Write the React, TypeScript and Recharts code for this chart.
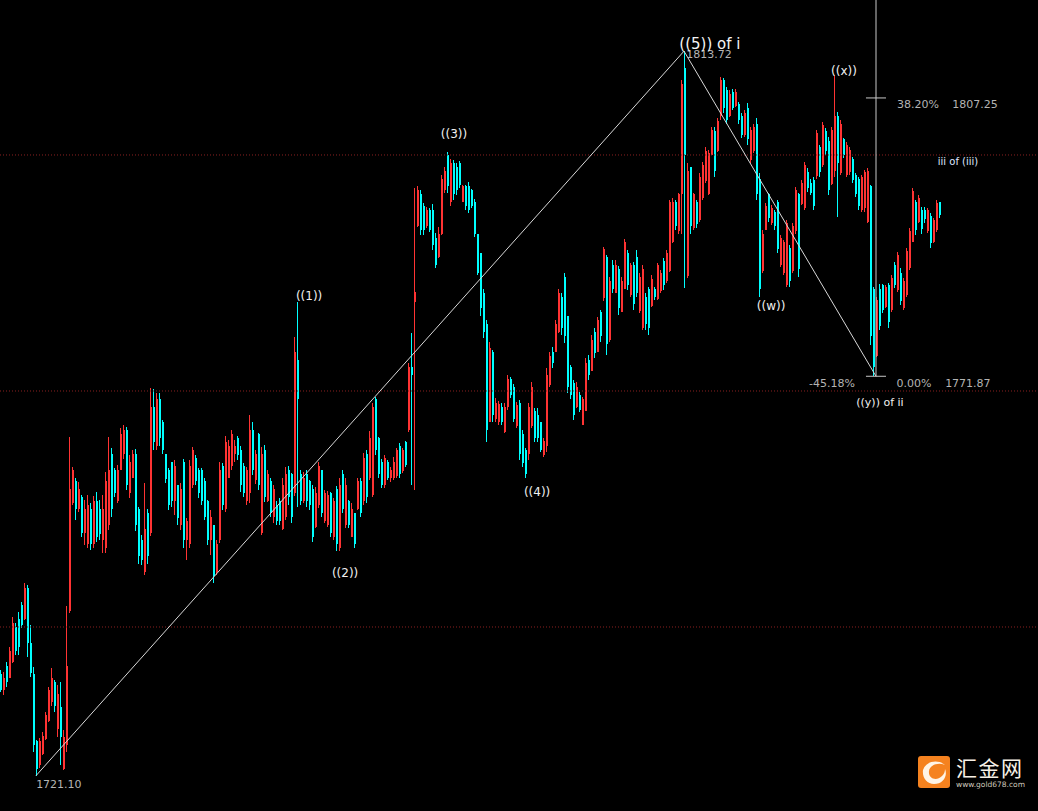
import { ComposedChart, Bar, XAxis, YAxis, ReferenceLine, ReferenceDot } from "recharts";

type Candle = [number, number, number, number]; // open, high, low, close

const openingDrop: Candle[] = [
  [1734,1734.5,1731.7,1732],[1732,1734.3,1731.4,1733.5],[1735,1735.6,1732.4,1733],[1733.5,1737.5,1733.5,1737],
  [1735.5,1741.3,1735.4,1740.5],[1740,1740.5,1736.4,1737],[1741,1741.9,1736.4,1737.5],[1742.8,1743.2,1739.9,1740.3],
  [1741,1745.6,1740.9,1745],[1745,1745.3,1736.2,1738],[1738,1740.3,1733.6,1734.2],[1734,1734.9,1724.1,1725],
  [1725.5,1725.6,1721.1,1722],
];
const firstThrust: Candle[] = [
  [1722.5,1725.9,1722.1,1725.5],[1723.8,1726.7,1723.7,1726.2],[1725.8,1729.2,1725.6,1728.8],[1728,1732.4,1727.9,1732],
  [1730.5,1734.8,1730,1733.5],[1733,1733.3,1729.2,1730],[1727,1732.6,1726,1731.5],[1729.8,1733,1722.5,1726],
  [1722,1726.9,1721.8,1726],[1725,1742.7,1724.1,1735],[1742,1764.2,1741.8,1757.5],[1755.8,1760.3,1755.5,1760],
];
const firstRange: Candle[] = [
  [1758.5,1758.9,1753.6,1755],[1755,1758.4,1754.6,1757.5],[1756.5,1756.8,1751.4,1752],[1752,1756.1,1750.4,1755],
  [1750.5,1756.8,1750,1755.5],[1755,1755.8,1749.8,1750.5],[1750.5,1756.6,1750,1756],[1756,1757.2,1750.8,1751.5],
  [1755,1756.1,1751,1751.8],[1751,1756.8,1749.4,1755],[1750,1759.7,1749.4,1758.5],[1753,1764.2,1752.3,1760],
  [1762,1762.8,1754,1755],[1760,1760.2,1756.5,1757],[1756,1760.6,1755.8,1760],[1760,1765.3,1760,1764.5],
  [1762,1765.7,1761.3,1765],[1765,1765.4,1757.4,1758],[1757,1761.9,1756.4,1761],[1759,1762.5,1758.9,1762],
  [1762,1762.6,1752.2,1753],[1755,1755.3,1748,1749],[1751,1751.7,1747.9,1748.5],[1747,1758.3,1746.6,1752.5],
  [1754.5,1755,1748,1749],[1752,1770.4,1751.6,1768],[1768,1770.2,1762.5,1763.5],[1763,1769.8,1762.5,1769],
  [1769,1769.8,1763,1764],[1766,1766.3,1762,1762.5],[1762,1762,1758.3,1758.8],[1760,1760.2,1754.9,1755.5],
  [1761,1761,1755.2,1756],[1756,1761.2,1754.2,1760.5],[1758,1758,1753,1753.8],[1753,1758.3,1752.3,1757.5],
  [1761,1761.4,1750,1751],[1751,1753.9,1748.5,1753.5],[1750.5,1761.2,1750,1760.5],[1758,1762.9,1757.7,1762.5],
  [1761.5,1761.9,1758,1758.5],[1760,1760.2,1756.4,1757],[1760,1760.2,1755.5,1756],[1758.5,1759,1753.6,1754],
  [1756,1756.1,1750.4,1751],[1751,1754.9,1749.2,1754],[1753,1753,1745.6,1746.5],[1747,1751,1746.6,1750.5],
  [1751,1761,1750.7,1760],[1760.5,1760.8,1754.9,1755.5],[1755,1764.3,1754.6,1763.5],[1759,1763.8,1759,1763],
  [1760.5,1765,1760,1764.5],[1762,1763.8,1761,1763],[1764,1764.3,1761.2,1761.8],
];
const toWaveOne: Candle[] = [
  [1762.5,1763,1757.2,1758],[1760.5,1760.8,1756.5,1757],[1756,1760.3,1755.5,1760],[1757,1767,1755.8,1765],
  [1765,1766,1759.3,1760],[1758.7,1762.5,1758.2,1762],[1764.5,1764.7,1757.4,1758],[1752,1762.9,1751.7,1762],
  [1762.5,1763.1,1755.9,1756.5],[1756,1760,1755.9,1759.5],[1758.5,1758.9,1754,1754.5],[1754,1758,1753.2,1757.5],
  [1755.5,1756,1753,1753.5],[1756,1756.4,1753,1753.5],[1752.5,1759,1752.3,1758],[1754,1760.3,1753.6,1759.5],
  [1760,1760.5,1755.5,1756.5],[1759.5,1759.6,1753.2,1754],[1757,1776.9,1756.6,1775],[1774,1781.3,1755.2,1769],
];
const toWaveTwo: Candle[] = [
  [1759.5,1760,1755.5,1756],[1756,1759.7,1755.8,1759],[1759.5,1760,1755.2,1756],[1758.5,1758.7,1754.9,1755.5],
  [1757.5,1758,1750.8,1751.5],[1752.7,1757.8,1752.6,1757],[1755.5,1761,1755.1,1760.5],[1760,1760,1754,1754.5],
  [1753.5,1757.4,1753.2,1757],[1753,1757.3,1752.7,1756.8],[1757,1757.2,1751.4,1752],[1751.5,1756.4,1751,1756],
  [1757.5,1757.9,1749.7,1750.5],[1750,1758.9,1749.7,1758],[1759.5,1760,1754.5,1755],[1753,1758.9,1752.6,1758],
  [1756,1756.1,1752.6,1753],[1751.5,1755.8,1751.4,1755],[1754.5,1754.5,1750,1750.5],
];
const toWaveThree: Candle[] = [
  [1755,1759,1754.9,1758.5],[1758.5,1759,1754,1754.5],[1756,1762.1,1755.5,1761.5],[1762,1762.5,1755.8,1756.5],
  [1759,1764.9,1758.7,1764],[1756.8,1768.5,1756.5,1768],[1769,1769.2,1761.9,1762.5],[1764,1764.2,1759,1759.5],
  [1761,1761.4,1757.7,1758],[1758,1761.9,1757.7,1761.5],[1761,1761.2,1758.7,1759],[1759,1760.3,1758.4,1760],
  [1759,1761.6,1758.7,1761],[1759.2,1762.8,1759,1762.5],[1763,1763.4,1759,1759.5],[1759.8,1762.8,1759.6,1762.5],
  [1763.5,1763.6,1760.3,1760.6],[1765,1773.6,1764.8,1773],[1773,1777.4,1758,1772],[1781.3,1795.8,1757.4,1782.6],
  [1791,1796.1,1790.8,1795.5],[1795,1795.6,1789.8,1790.5],[1793.5,1793.9,1789.8,1790.5],[1791,1793.4,1790.7,1793],
  [1793,1793.3,1790.2,1790.5],[1793,1793.8,1787.9,1788.5],[1789.5,1790.1,1785.6,1786],[1787,1790.8,1786.9,1790],
  [1790,1797.5,1789.8,1797],[1795.5,1798.5,1795.2,1798],[1800,1800.4,1795.2,1796],
];
const toWaveFour: Candle[] = [
  [1794,1799.5,1793.5,1799],[1799,1799.4,1794.3,1795],[1798.5,1799,1794.9,1795.5],[1799,1799.2,1795.8,1796.2],
  [1794,1796.2,1794,1796],[1796,1796.2,1793,1793.5],[1796,1796.6,1792.6,1793],[1795.5,1795.7,1793.2,1793.5],
  [1794,1794.4,1789.6,1790],[1790,1790,1784.7,1785],[1787.5,1787.5,1779.5,1780.5],[1782.5,1783,1776.7,1777.5],
  [1778.5,1779,1763.5,1765],[1766,1776.2,1766,1775.5],[1775,1775.2,1766,1767],[1766.5,1769.1,1766,1768.5],
  [1766,1768.7,1765.7,1768.3],[1768,1768.5,1765.7,1766],[1764.8,1768.5,1764.7,1768],[1768,1772,1767.6,1771.5],
  [1771.5,1771.8,1769.1,1769.5],[1770.5,1770.9,1766,1766.5],[1765.5,1768.6,1765.3,1768.2],[1768.5,1768.9,1761.2,1762],
  [1764.5,1765,1760.3,1760.8],[1762.5,1762.8,1759,1759.5],[1762,1768.5,1761.2,1768],[1765.5,1771.1,1765.3,1770.5],
  [1767.5,1767.8,1763.5,1764],[1767,1767.8,1763.5,1764],[1766,1766.1,1762.2,1762.5],
];
const toWaveFive: Candle[] = [
  [1761.8,1764,1761.6,1763.6],[1763,1772.9,1762.2,1772],[1770.8,1775,1770.5,1774.5],[1775,1775.6,1772.9,1773.5],
  [1775,1779,1774.9,1778.5],[1777.5,1783,1777.4,1782.5],[1782,1782.5,1777.1,1778],[1784.5,1785,1776.1,1777],
  [1779.5,1779.5,1769.7,1770.5],[1773,1773.3,1769,1769.5],[1771,1771.4,1766.3,1767],[1768,1771.1,1767.8,1770.5],
  [1769.5,1769.9,1767.3,1767.6],[1765.7,1769.2,1765.7,1769],[1767.5,1774.2,1767.5,1773.5],[1774,1774.6,1771.4,1772],
  [1772.5,1777.1,1772.5,1776.5],[1777.5,1778,1774.2,1774.8],[1775,1779.4,1775,1779],[1780,1780.3,1776.2,1777],
  [1781.8,1788.3,1781.5,1788],[1787,1787.3,1774.6,1776],[1776.5,1784.5,1776.2,1784],[1786,1786.7,1782.5,1783],
  [1782.5,1786.7,1782.5,1786],[1785.5,1785.9,1779.7,1780.5],[1780,1784.5,1780,1784],
  [1783,1789.3,1783,1789],[1787.5,1787.9,1782.8,1783.5],[1782.2,1786.3,1782,1786],[1786,1786.4,1780.3,1781],
  [1787,1787.9,1782,1782.5],[1780.2,1785,1779.9,1784.5],[1778,1786,1777.8,1785.5],[1782,1782.5,1777.8,1778.5],
  [1783,1783.2,1777.1,1778],[1780.8,1784.7,1780.7,1784.2],[1783,1783.2,1781.6,1782],[1781.7,1786.3,1781.6,1786],
  [1782.7,1785.4,1782.5,1785],[1786.5,1786.9,1782.8,1783.5],[1784,1787.9,1783.7,1787.5],[1785.3,1794.3,1785.1,1794],
  [1789,1794.5,1788.8,1794],[1794,1794.3,1790.5,1791],[1790.3,1795.2,1790,1795],[1795,1809.5,1790,1809],
  [1811,1813.2,1783.1,1800],
];
const toWaveW: Candle[] = [
  [1784.6,1799,1784.4,1798],[1798.5,1798.5,1790,1791],[1790.7,1795.2,1790.5,1795],[1794,1794.3,1790.7,1791.2],
  [1791.7,1797.7,1791.5,1797.2],[1794.5,1799.1,1794.3,1798.7],[1796.7,1801,1796.4,1800.5],[1795,1800.6,1794.9,1800.2],
  [1800,1803.6,1800,1803.2],[1803,1803.6,1797.2,1798],[1800.5,1804.7,1800.4,1804.3],[1805,1809.9,1804.5,1809.5],
  [1809.5,1809.8,1805.3,1806],[1808.2,1808.6,1804,1804.5],[1804.9,1808.2,1804.8,1807.8],[1808,1808.4,1805.7,1806],
  [1806.2,1808.4,1806.1,1808],[1806.5,1806.7,1804,1804.4],[1805,1805.3,1802.2,1802.6],[1802.6,1805.7,1802.3,1805.3],
  [1806,1806.6,1801.3,1802],[1799.3,1803.6,1799,1803.2],[1800.5,1804,1800.3,1803.6],[1804,1804.7,1794.3,1795],
  [1797,1797.7,1782,1783],
];
const toWaveX: Candle[] = [
  [1785.3,1790.5,1785,1790],[1790.5,1793.9,1790.5,1793.5],[1795,1795.2,1791.5,1792],[1791.4,1793.6,1791.1,1793.3],
  [1792.8,1793,1790.5,1791],[1794,1794.3,1787.5,1788],[1786,1789.8,1785.8,1789.5],[1785,1789.2,1784.7,1789],
  [1783.5,1791.7,1783.2,1791.3],[1788.2,1788.6,1783.2,1784],[1785.3,1791.4,1785,1791],[1790.3,1795.9,1790,1795.5],
  [1795,1795.2,1784.5,1785.5],[1793.8,1796.8,1793.6,1796.5],[1793.3,1799.1,1793,1798.7],[1797.8,1798.3,1795.3,1795.8],
  [1796.5,1797,1794.9,1795.2],[1796.8,1797.2,1793,1793.5],[1797.3,1803.2,1797,1802.8],[1801,1801.3,1797.2,1797.8],
  [1798.7,1804.2,1798.5,1803.8],[1803,1803.4,1800,1800.5],[1801.8,1802.3,1794.9,1795.5],[1796.3,1803.6,1796.2,1803.2],
  [1798,1810.2,1797.2,1805],
];
const toWaveY: Candle[] = [
  [1805,1805.5,1792.1,1799],[1797.7,1804.4,1797.5,1804],[1802,1802.2,1799.6,1800],[1797.5,1801.7,1797.2,1801.3],
  [1797.8,1801,1797.5,1800.6],[1799.5,1799.7,1796.4,1796.8],[1797.5,1797.7,1794.7,1795],[1797,1797.2,1793,1793.5],
  [1793,1797.5,1792.8,1797.2],[1793.2,1798.1,1792.8,1797.8],[1791.5,1798.3,1791.4,1798],[1796,1796.2,1775.8,1777],
  [1783,1783.2,1771.9,1773],
];
const lastRally: Candle[] = [
  [1774.5,1782,1774.3,1781.6],[1783,1783.6,1777.8,1778.3],[1783.5,1783.6,1779.9,1780.3],[1780.7,1783.5,1780.6,1783.2],
  [1783.5,1783.7,1778,1778.8],[1780.3,1784.7,1780,1784.3],[1786,1786.4,1783.1,1783.5],[1782.8,1787.7,1782.6,1787.3],
  [1785,1785.6,1780.9,1781.5],[1780.5,1784.4,1780.3,1784],[1782.2,1788.2,1782,1787.8],[1785.6,1790.7,1785.4,1790.3],
  [1789,1795.8,1788.9,1795.4],[1794,1794.3,1789.8,1790.5],[1791.5,1794.9,1791.4,1794.5],[1793,1793.4,1790,1790.6],
  [1793,1793.4,1791.4,1791.8],[1790.3,1793.3,1790.1,1793],[1792.3,1792.6,1788.2,1788.8],[1789,1792,1788.8,1791.7],
  [1790.5,1794.3,1790.2,1793.9],[1794,1794,1792,1792.4],
];

const gridPrices = [1800, 1770, 1740];

// wave pivots, bar index + price
const wavePivots = [
  { x: 11.67, y: 1721.1 },
  { x: 227.67, y: 1813.2 },
  { x: 291.67, y: 1771.87 },
];
const fibLevels = [1807.25, 1771.87];

const waveLabels = [
  { text: "((1))", x: 102.7, y: 1782.1 },
  { text: "((2))", x: 114.7, y: 1746.9 },
  { text: "((3))", x: 151, y: 1802.7 },
  { text: "((4))", x: 178.7, y: 1757.2 },
  { text: "((w))", x: 256.7, y: 1780.8 },
  { text: "((x))", x: 281, y: 1810.7 },
];
const priceLabels = [
  { text: "1721.10", x: 19.3, y: 1720 },
  { text: "1813.72", x: 236, y: 1812.8 },
  { text: "38.20%", x: 305.7, y: 1806.4 },
  { text: "1807.25", x: 324.7, y: 1806.4 },
  { text: "-45.18%", x: 277, y: 1770.9 },
  { text: "0.00%", x: 304.3, y: 1770.9 },
  { text: "1771.87", x: 322.3, y: 1770.9 },
];

const candles = [
  ...openingDrop, ...firstThrust, ...firstRange, ...toWaveOne, ...toWaveTwo, ...toWaveThree,
  ...toWaveFour, ...toWaveFive, ...toWaveW, ...toWaveX, ...toWaveY, ...lastRally,
];
const data = candles.map((c, i) => ({ i, open: c[0], high: c[1], low: c[2], close: c[3] }));

function CandleShape(props: any) {
  const { x, y, width, height, payload } = props;
  const up = payload.close >= payload.open;
  const color = up ? "#ff3333" : "#00ffff";
  const ratio = height / (payload.high - payload.low || 1);
  const top = y + (payload.high - Math.max(payload.open, payload.close)) * ratio;
  const bodyH = Math.max(Math.abs(payload.close - payload.open) * ratio, 1);
  const cx = Math.round(x + width / 2);
  return (
    <g shapeRendering="crispEdges">
      <rect x={cx} y={y} width={1} height={height} fill={color} />
      <rect x={cx} y={top} width={2} height={bodyH} fill={color} />
    </g>
  );
}

function chartText(text: string, color: string, size: number, font = "'DejaVu Sans'") {
  return (p: any) => (
    <text x={p.cx} y={p.cy} fill={color} fontSize={size} fontFamily={font} textAnchor="middle" dominantBaseline="central">
      {text}
    </text>
  );
}

export default function App() {
  return (
    <div style={{ position: "fixed", left: 0, top: 0, width: 1038, height: 811, background: "#000", overflow: "hidden" }}>
      <ComposedChart width={1038} height={811} data={data} margin={{ top: 0, right: 0, bottom: 0, left: 0 }}>
        <XAxis dataKey="i" type="number" hide domain={[-0.33, 345.67]} allowDataOverflow />
        <YAxis type="number" hide domain={[1716.61, 1819.7]} allowDataOverflow />
        {gridPrices.map((p) => (
          <ReferenceLine key={p} y={p} stroke="#8a2020" strokeDasharray="1 2" />
        ))}
        <Bar dataKey={(d: any) => [d.low, d.high]} barSize={2} shape={CandleShape} isAnimationActive={false} />
        <ReferenceLine segment={[wavePivots[0], wavePivots[1]]} stroke="#d8d8d8" />
        <ReferenceLine segment={[wavePivots[1], wavePivots[2]]} stroke="#d8d8d8" />
        <ReferenceLine segment={[{ x: wavePivots[2].x, y: 1771.87 }, { x: wavePivots[2].x, y: 1819.7 }]} stroke="#c8c8c8" />
        {fibLevels.map((p) => (
          <ReferenceLine key={p} segment={[{ x: 288.33, y: p }, { x: 295, y: p }]} stroke="#c8c8c8" />
        ))}
        {waveLabels.map((l) => (
          <ReferenceDot key={l.text} x={l.x} y={l.y} r={0} shape={chartText(l.text, "#f0f0f0", 12)} />
        ))}
        {priceLabels.map((l) => (
          <ReferenceDot key={l.text} x={l.x} y={l.y} r={0} shape={chartText(l.text, "#b4b4b4", 11)} />
        ))}
        <ReferenceDot x={293} y={1768.5} r={0} shape={chartText("((y)) of ii", "#f0f0f0", 11)} />
        <ReferenceDot x={236.3} y={1814.1} r={0} shape={chartText("((5)) of i", "#f4f4f4", 15)} />
        <ReferenceDot x={319} y={1799.2} r={0} shape={chartText("iii of (iii)", "#dfe6ff", 10)} />
      </ComposedChart>
      <svg width={32} height={32} style={{ position: "absolute", left: 918, top: 756 }}>
        <rect width={32} height={32} rx={3} fill="#f5821f" />
        <path d="M5 14 C8 5 20 3 27 9 C20 6 12 9 11 15 C10 22 18 26 24 20 C26 18 27 16 27 13 C30 20 25 28 16 28 C9 28 4 22 5 14 Z" fill="#fff4e6" />
      </svg>
      <div style={{ position: "absolute", left: 956, top: 753, fontFamily: "'Noto Sans CJK SC'", fontSize: 21, letterSpacing: 1.5, color: "#f7f0e6", lineHeight: "28px", whiteSpace: "nowrap" }}>汇金网</div>
      <div style={{ position: "absolute", left: 956, top: 780, fontFamily: "'DejaVu Sans'", fontSize: 7.5, color: "#cfc8bc", lineHeight: "10px", whiteSpace: "nowrap" }}>www.gold678.com</div>
    </div>
  );
}
